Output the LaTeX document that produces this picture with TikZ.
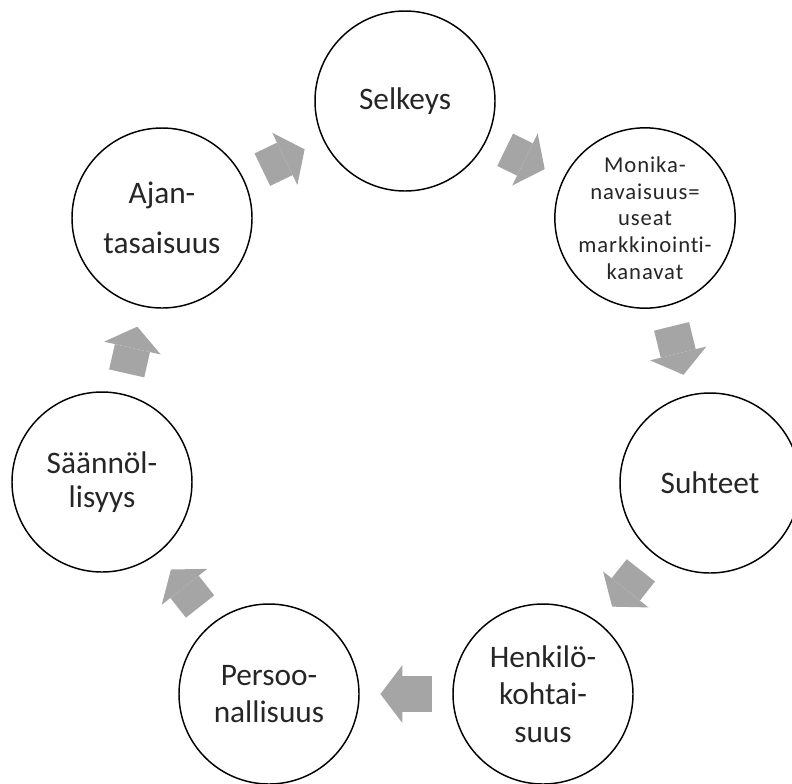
\documentclass[tikz,border=0pt]{standalone}
\usepackage{fontspec}
\setmainfont{Carlito}
\usetikzlibrary{arrows.meta}
\definecolor{arrowgray}{HTML}{A5A5A5}

\begin{document}
\begin{tikzpicture}[x=0.75pt,y=0.75pt,yscale=-1,
  cyclenode/.style={circle,draw=black,line width=1.1pt,minimum size=135pt,inner sep=0pt,
    align=center,text=black!85,font=\fontsize{23.5}{28}\selectfont},
  cyclearrow/.style={draw=arrowgray,line width=27pt,shorten <=15.5pt,shorten >=15.5pt,
    -{Triangle[length=16.5pt,width=43.5pt,line width=0pt]}}]
\useasboundingbox (0,0) rectangle (792,783);

% Circles
\node[cyclenode] (selkeys) at (405,101) {Selkeys};
\node[cyclenode,font=\fontsize{17}{20}\selectfont\addfontfeature{LetterSpace=4,Ligatures=NoCommon}] (monika) at (645,218)
  {Monika-\\navaisuus=\\useat\\markkinoint\kern0pt i-\\kanavat};
\node[cyclenode] (suhteet) at (710,483) {Suhteet};
\node[cyclenode] (henkilo) at (543,694) {Henkilö-\\kohtai-\\suus};
\node[cyclenode] (persoo) at (269,694) {Persoo-\\nallisuus};
\node[cyclenode] (saannol) at (102,482) {Säännöl-\\[-3pt]lisyys};
\node[cyclenode] (ajan) at (162,218) {Ajan-\\[9.5pt]tasaisuus};

% Block arrows
\draw[cyclearrow] (selkeys) -- (monika);
\draw[cyclearrow] (monika) -- (suhteet);
\draw[cyclearrow] (suhteet) -- (henkilo);
\draw[cyclearrow] (henkilo) -- (persoo);
\draw[cyclearrow] (persoo) -- (saannol);
\draw[cyclearrow] (saannol) -- (ajan);
\draw[cyclearrow] (ajan) -- (selkeys);

\end{tikzpicture}
\end{document}
